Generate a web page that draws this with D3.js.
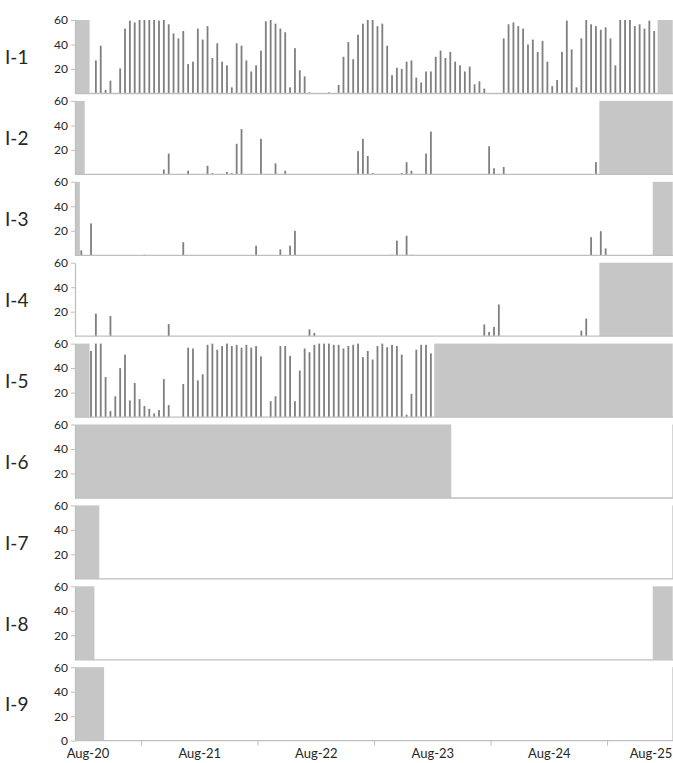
<!DOCTYPE html>
<html>
<head>
<meta charset="utf-8">
<script src="https://cdn.jsdelivr.net/npm/d3@7"></script>
<style>
  html, body { margin: 0; padding: 0; background: #fff; }
  svg { display: block; font-family: Lato, "Open Sans", sans-serif; }
</style>
</head>
<body>
<svg id="chart" width="673" height="763"></svg>
<script>
// ---- data -------------------------------------------------------------
// Hourly readings; hour 0 is the first hour on the axis (Aug-20, late morning).
const panelNames = ["I-1", "I-2", "I-3", "I-4", "I-5", "I-6", "I-7", "I-8", "I-9"];
const dayLabels = ["Aug-20", "Aug-21", "Aug-22", "Aug-23", "Aug-24", "Aug-25"];
const yTickValues = [0, 20, 40, 60];
const hourCount = 123;
const firstMidnight = 13.7;   // hours from axis start to 00:00 Aug-21

// I-1 is recorded almost continuously: values for hours 4..119
const i1FirstHour = 4;
const i1Values = [
  27, 39, 3, 10.5, 0, 20.5, 53, 59.5, 58, 60, 60, 60, 60, 59.5, 60, 56.5, 49, 45, 51, 24,
  26, 53, 44, 55, 29, 41, 26, 23, 5, 41, 39, 27, 18, 23, 35, 59, 60, 57, 53, 50,
  5, 37, 19, 14, 1, 0, 0, 0, 1, 0, 7,
  30, 42, 28, 48, 57, 60, 60, 55, 57, 39, 15, 21, 20, 26, 27, 13, 9, 18, 18, 30,
  35, 29, 34, 26, 23, 18, 22, 7.5, 10, 4, 0, 0, 0, 45, 56.5, 58, 55, 53, 40, 44,
  34, 43, 26, 6, 11, 34, 59.5, 36, 5, 45, 60, 56.5, 55, 52, 54, 45, 23, 60, 60, 60,
  55, 56.5, 53, 59.5, 51
];

// I-5 values for hours 3..73
const i5FirstHour = 3;
const i5Values = [
  54, 60, 60, 32.7, 4.9, 17, 40, 51, 13.6, 27.8, 14.7, 9, 6.8, 3, 5.7, 31, 9.8, 0, 0,
  27, 56.7, 56, 30, 35, 59, 60, 55, 58, 60, 58, 59, 56.7, 59, 56.7, 58, 49.6, 0,
  13, 17, 58, 58, 50, 13, 38, 56, 53, 59, 60, 60, 60, 59, 59,
  56, 58, 59, 60, 49, 54, 47, 58, 60, 57, 59, 58, 51, 2, 19, 55, 59, 59, 52
];

// Sparse panels: [hour, value]
const i2Readings = [
  [18, 4], [19, 17], [23, 3], [27, 7], [28, 1], [31, 2], [32, 1], [33, 25], [34, 37],
  [38, 29], [41, 9], [43, 3], [58, 19], [59, 29], [60, 15], [61, 1], [67, 1], [68, 10],
  [69, 3], [72, 17], [73, 35], [85, 23], [86, 5], [88, 6], [107, 10]
];
const i3Readings = [
  [1, 4], [3, 26], [14, 0.5], [22, 10.7], [37, 7.8], [42, 4.8], [44, 7.8], [45, 20],
  [65, 0.5], [66, 12], [68, 16], [69, 0.5], [106, 14.8], [108, 19.7], [109, 5.6]
];
const i4Readings = [
  [4, 18.4], [7, 16.5], [19, 9.9], [48, 5.6], [49, 2.7],
  [84, 9.6], [85, 3.5], [86, 7.5], [87, 25.9], [104, 4.5], [105, 14.4]
];

// Hours with no record, as [start, end) ranges
const i1Missing = [[0, 3], [120, 123]];
const i2Missing = [[0, 2], [108, 123]];
const i3Missing = [[0, 1], [119, 123]];
const i4Missing = [[108, 123]];
const i5Missing = [[0, 3], [74, 123]];
const i6Missing = [[0, 77.5]];
const i7Missing = [[0, 5]];
const i8Missing = [[0, 4], [119, 123]];
const i9Missing = [[0, 6]];

const dense = (first, vals) => vals.map((v, i) => [first + i, v]);
const panelReadings = [
  dense(i1FirstHour, i1Values), i2Readings, i3Readings, i4Readings,
  dense(i5FirstHour, i5Values), [], [], [], []
];
const panelMissing = [i1Missing, i2Missing, i3Missing, i4Missing, i5Missing,
  i6Missing, i7Missing, i8Missing, i9Missing];

// ---- layout -----------------------------------------------------------
const plotLeft = 75, hourWidth = 4.855;
const panelTop = 20, panelPitch = 80.9, panelHeight = 73.5;
const barWidth = 1.8;
const barOffset = 0.3;   // bar sits slightly left of its hour cell centre

const barColor = "#7f7f7f";
const missingColor = "#c7c6c7";
const axisColor = "#bfbfbf";
const edgeColor = "#d4d4d4";
const textColor = "#262626";

const svg = d3.select("#chart");
const x = d3.scaleLinear().domain([0, hourCount])
  .range([plotLeft, plotLeft + hourCount * hourWidth]);

panelNames.forEach((name, p) => {
  const top = panelTop + p * panelPitch;
  const y = d3.scaleLinear().domain([0, 60]).range([top + panelHeight, top]);
  const g = svg.append("g");

  // shaded hours with no data
  g.selectAll("rect.missing").data(panelMissing[p]).join("rect")
    .attr("class", "missing")
    .attr("x", d => x(d[0]))
    .attr("width", d => x(d[1]) - x(d[0]))
    .attr("y", y(60))
    .attr("height", y(0) - y(60))
    .attr("fill", missingColor);

  // hourly bars
  g.selectAll("rect.bar").data(panelReadings[p].filter(d => d[1] > 0)).join("rect")
    .attr("class", "bar")
    .attr("x", d => x(d[0] + barOffset) - barWidth / 2)
    .attr("width", barWidth)
    .attr("y", d => y(d[1]))
    .attr("height", d => y(0) - y(d[1]))
    .attr("fill", barColor);

  // right edge of the panel
  g.append("line")
    .attr("x1", x(hourCount) + 0.3).attr("x2", x(hourCount) + 0.3)
    .attr("y1", y(60)).attr("y2", y(0))
    .attr("stroke", edgeColor).attr("stroke-width", 1);

  // baseline
  g.append("line")
    .attr("x1", x(0)).attr("x2", x(hourCount) + 1)
    .attr("y1", y(0)).attr("y2", y(0))
    .attr("stroke", axisColor).attr("stroke-width", 1.3);

  // value axis
  const last = p === panelNames.length - 1;
  const yAxis = d3.axisLeft(y)
    .tickValues(last ? yTickValues : yTickValues.filter(v => v > 0))
    .tickSize(4).tickSizeOuter(0).tickPadding(3);
  const ag = g.append("g").attr("transform", `translate(${plotLeft},0)`).call(yAxis);
  ag.select(".domain").attr("stroke", axisColor).attr("stroke-width", 1.3);
  ag.selectAll(".tick line").attr("stroke", axisColor);
  ag.selectAll(".tick text").attr("fill", textColor)
    .style("font-size", "12px").style("font-family", "Lato, 'Open Sans', sans-serif");

  // panel name
  g.append("text")
    .attr("x", 5).attr("y", (y(0) + y(60)) / 2)
    .attr("dominant-baseline", "central")
    .attr("fill", textColor)
    .style("font-size", "19px")
    .text(name);

  // day axis under the last panel
  if (last) {
    const midnights = dayLabels.slice(1).map((_, i) => firstMidnight + 24 * i);
    g.selectAll("line.daytick").data(midnights).join("line")
      .attr("class", "daytick")
      .attr("x1", d => x(d)).attr("x2", d => x(d))
      .attr("y1", y(0)).attr("y2", y(0) + 5)
      .attr("stroke", axisColor).attr("stroke-width", 1);
    const labelMin = x(0) + 13, labelMax = 673 - 22;
    g.selectAll("text.day").data(dayLabels).join("text")
      .attr("class", "day")
      .attr("x", (d, i) => Math.max(labelMin, Math.min(labelMax, x(firstMidnight + 24 * i - 12))))
      .attr("y", y(0) + 17)
      .attr("text-anchor", "middle")
      .attr("fill", textColor)
      .style("font-size", "13px")
      .text(d => d);
  }
});
</script>
</body>
</html>
